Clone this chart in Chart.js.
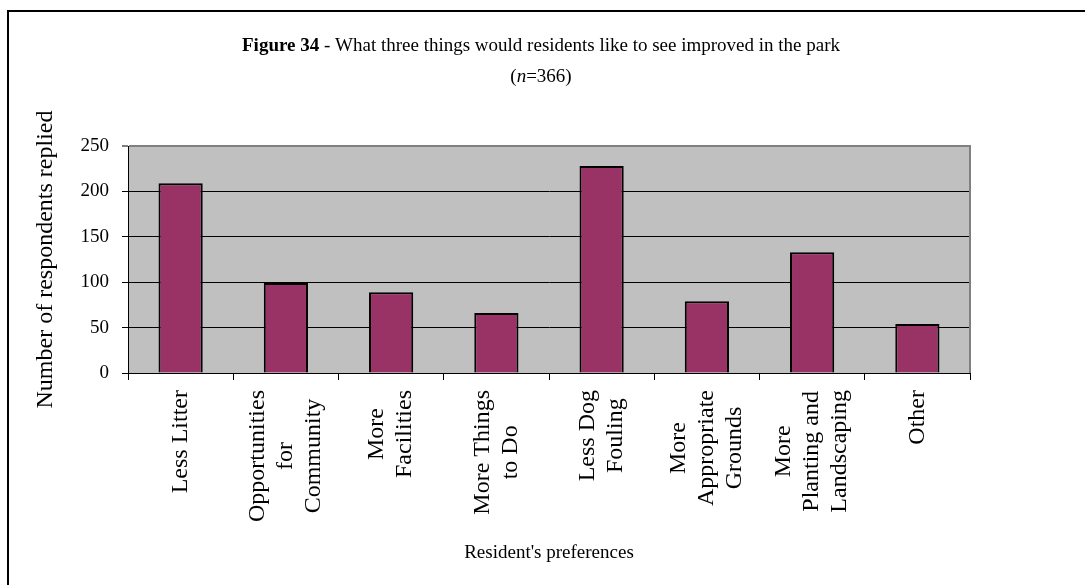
<!DOCTYPE html>
<html>
<head>
<meta charset="utf-8">
<script src="https://cdn.jsdelivr.net/npm/chart.js@4.4.0/dist/chart.umd.min.js"></script>
<style>
    html, body { margin: 0; padding: 0; background: #fff; }
    #wrap { position: relative; width: 1085px; height: 585px; }
</style>
</head>
<body>
<div id="wrap"><canvas id="prefs-chart"></canvas></div>
<script>
// categories (one array entry per wrapped line) and values
const categories = [
    ['Less Litter'],
    ['Opportunities', 'for', 'Community'],
    ['More', 'Facilities'],
    ['More Things', 'to Do'],
    ['Less Dog', 'Fouling'],
    ['More', 'Appropriate', 'Grounds'],
    ['More', 'Planting and', 'Landscaping'],
    ['Other']
];
const responses = [209, 99, 89, 66, 228, 79, 133, 54];
const yTicks = [0, 50, 100, 150, 200, 250];

const serif = "'Liberation Serif', 'Times New Roman', serif";

// white page, grey plot area and the black frame (only top and left edges show)
const framePlugin = {
    id: 'frame',
    beforeDraw(chart) {
        const ctx = chart.ctx;
        ctx.save();
        ctx.fillStyle = '#fff';
        ctx.fillRect(0, 0, chart.width, chart.height);
        const a = chart.chartArea;
        ctx.fillStyle = '#c0c0c0';
        ctx.fillRect(a.left, a.top, a.right - a.left, a.bottom - a.top);
        ctx.restore();
    },
    afterDraw(chart) {
        const ctx = chart.ctx;
        const a = chart.chartArea;
        ctx.save();
        // plot area right edge
        ctx.strokeStyle = '#808080';
        ctx.lineWidth = 2;
        ctx.beginPath();
        ctx.moveTo(a.right, a.top - 1);
        ctx.lineTo(a.right, a.bottom);
        ctx.stroke();
        // outer frame
        ctx.strokeStyle = '#000';
        ctx.lineWidth = 2;
        ctx.beginPath();
        ctx.moveTo(8, chart.height);
        ctx.lineTo(8, 11);
        ctx.lineTo(chart.width, 11);
        ctx.stroke();
        ctx.restore();
    }
};

// title with bold "Figure 34" and italic n
const titlePlugin = {
    id: 'figTitle',
    afterDraw(chart) {
        const ctx = chart.ctx;
        const cx = 541;
        ctx.save();
        ctx.fillStyle = '#000';
        ctx.textBaseline = 'middle';
        ctx.textAlign = 'left';

        const parts1 = [
            ['bold 19px ' + serif, 'Figure 34'],
            ['19px ' + serif, ' - What three things would residents like to see improved in the park']
        ];
        const parts2 = [
            ['19px ' + serif, '('],
            ['italic 19px ' + serif, 'n'],
            ['19px ' + serif, '=366)']
        ];
        [[parts1, 46], [parts2, 77]].forEach(([parts, y]) => {
            let w = 0;
            parts.forEach(p => { ctx.font = p[0]; w += ctx.measureText(p[1]).width; });
            let x = cx - w / 2;
            parts.forEach(p => {
                ctx.font = p[0];
                ctx.fillText(p[1], x, y);
                x += ctx.measureText(p[1]).width;
            });
        });
        ctx.restore();
    }
};

// vertical category labels, each line centred like the original
const xLabelPlugin = {
    id: 'xLabels',
    afterDraw(chart) {
        const ctx = chart.ctx;
        const xScale = chart.scales.x;
        const top = chart.chartArea.bottom + 17;
        const lineGap = 28;
        ctx.save();
        ctx.fillStyle = '#000';
        ctx.font = '24px ' + serif;
        ctx.textAlign = 'center';
        ctx.textBaseline = 'middle';
        categories.forEach((lines, i) => {
            const px = xScale.getPixelForTick(i);
            const maxW = Math.max(...lines.map(l => ctx.measureText(l).width));
            lines.forEach((line, j) => {
                const lx = px + (j - (lines.length - 1) / 2) * lineGap;
                ctx.save();
                ctx.translate(lx, top + maxW / 2);
                ctx.rotate(-Math.PI / 2);
                ctx.fillText(line, 0, 0);
                ctx.restore();
            });
        });
        ctx.restore();
    }
};

const ctx = document.getElementById('prefs-chart').getContext('2d');
const prefsChart = new Chart(ctx, {
    type: 'bar',
    data: {
        labels: categories.map(c => c.join(' ')),
        datasets: [{
            data: responses,
            backgroundColor: '#993366',
            borderColor: '#000',
            borderWidth: 2,
            barPercentage: 0.42,
            categoryPercentage: 1.0
        }]
    },
    options: {
        responsive: true,
        maintainAspectRatio: false,
        animation: false,
        layout: {
            padding: { top: 146, right: 115, bottom: 0, left: 0 }
        },
        plugins: {
            legend: { display: false },
            tooltip: { enabled: false }
        },
        scales: {
            x: {
                afterFit: function (scale) { scale.height = 212; },
                ticks: { display: false },
                grid: {
                    display: true,
                    offset: true,
                    drawOnChartArea: false,
                    drawTicks: true,
                    tickLength: 7,
                    color: '#000',
                    lineWidth: 1
                },
                border: { display: true, color: '#000', width: 1 },
                title: {
                    display: true,
                    text: "Resident's preferences",
                    color: '#000',
                    font: { family: serif, size: 19, lineHeight: 1.2 },
                    padding: { top: 0, bottom: 21 }
                }
            },
            y: {
                min: 0,
                max: 250,
                afterFit: function (scale) { scale.width = 128; },
                afterBuildTicks: function (scale) {
                    scale.ticks = yTicks.map(v => ({ value: v }));
                },
                ticks: {
                    color: '#000',
                    font: { family: serif, size: 19 },
                    padding: 13
                },
                grid: {
                    color: function (c) { return c.tick && c.tick.value === 250 ? '#808080' : '#000'; },
                    lineWidth: function (c) { return c.tick && c.tick.value === 250 ? 2 : 1; },
                    tickColor: '#000',
                    tickWidth: 1,
                    tickLength: 6
                },
                border: { display: true, color: '#000', width: 1 },
                title: {
                    display: true,
                    text: 'Number of respondents replied',
                    color: '#000',
                    font: { family: serif, size: 24, lineHeight: 1.2 },
                    padding: { top: 31, bottom: 0 }
                }
            }
        }
    },
    plugins: [framePlugin, titlePlugin, xLabelPlugin]
});
</script>
</body>
</html>
